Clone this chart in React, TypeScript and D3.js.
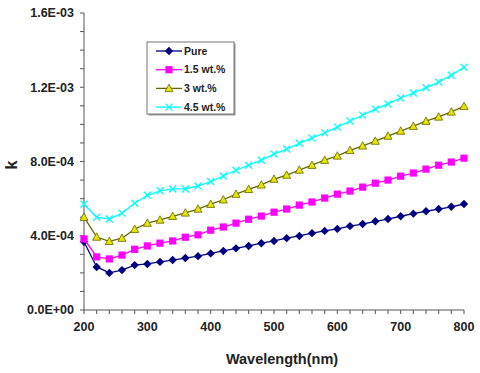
import React, { useRef, useEffect } from "react";
import * as d3 from "d3";

const wavelengths = [200, 220, 240, 260, 280, 300, 320, 340, 360, 380, 400, 420, 440, 460, 480, 500, 520, 540, 560, 580, 600, 620, 640, 660, 680, 700, 720, 740, 760, 780, 800];

const pure = [3.68e-4, 2.32e-4, 2.0e-4, 2.15e-4, 2.42e-4, 2.48e-4, 2.59e-4, 2.69e-4, 2.8e-4, 2.9e-4, 3.05e-4, 3.18e-4, 3.32e-4, 3.45e-4, 3.6e-4, 3.72e-4, 3.87e-4, 3.99e-4, 4.14e-4, 4.26e-4, 4.37e-4, 4.52e-4, 4.63e-4, 4.78e-4, 4.9e-4, 5.05e-4, 5.19e-4, 5.32e-4, 5.44e-4, 5.56e-4, 5.71e-4];
const wt15 = [3.83e-4, 2.86e-4, 2.75e-4, 2.96e-4, 3.27e-4, 3.45e-4, 3.6e-4, 3.72e-4, 3.92e-4, 4.05e-4, 4.3e-4, 4.47e-4, 4.68e-4, 4.89e-4, 5.06e-4, 5.27e-4, 5.44e-4, 5.65e-4, 5.82e-4, 6.03e-4, 6.24e-4, 6.41e-4, 6.62e-4, 6.83e-4, 7.0e-4, 7.21e-4, 7.38e-4, 7.59e-4, 7.8e-4, 7.97e-4, 8.18e-4];
const wt3 = [5.0e-4, 3.93e-4, 3.7e-4, 3.87e-4, 4.35e-4, 4.68e-4, 4.85e-4, 5.05e-4, 5.23e-4, 5.44e-4, 5.7e-4, 5.94e-4, 6.24e-4, 6.5e-4, 6.74e-4, 7.05e-4, 7.27e-4, 7.54e-4, 7.8e-4, 8.07e-4, 8.3e-4, 8.6e-4, 8.84e-4, 9.1e-4, 9.37e-4, 9.64e-4, 9.9e-4, 1.017e-3, 1.04e-3, 1.067e-3, 1.097e-3];
const wt45 = [5.7e-4, 5.0e-4, 4.9e-4, 5.22e-4, 5.75e-4, 6.18e-4, 6.42e-4, 6.52e-4, 6.52e-4, 6.68e-4, 6.92e-4, 7.22e-4, 7.53e-4, 7.8e-4, 8.07e-4, 8.4e-4, 8.67e-4, 8.98e-4, 9.27e-4, 9.54e-4, 9.85e-4, 1.018e-3, 1.05e-3, 1.082e-3, 1.11e-3, 1.142e-3, 1.169e-3, 1.197e-3, 1.228e-3, 1.265e-3, 1.308e-3];

const seriesNames = ["Pure", "1.5 wt.%", "3 wt.%", "4.5 wt.%"];
const seriesValues = [pure, wt15, wt3, wt45];
const lineColors = ["#000080", "#ff00ff", "#666600", "#00ffff"];
const markerFills = ["#000080", "#ff00ff", "#e6e600", "#00ffff"];
const markerTypes = ["diamond", "square", "triangle", "x"];

const yTickLabels = ["0.0E+00", "4.0E-04", "8.0E-04", "1.2E-03", "1.6E-03"];

const font = "'Liberation Sans', Arial, sans-serif";

function drawMarker(g: any, type: string, fill: string, stroke: string) {
  if (type === "diamond") {
    g.append("path").attr("d", "M0,-4.2L4.2,0L0,4.2L-4.2,0Z").attr("fill", fill);
  } else if (type === "square") {
    g.append("rect").attr("x", -3.6).attr("y", -3.6).attr("width", 7.2).attr("height", 7.2).attr("fill", fill);
  } else if (type === "triangle") {
    g.append("path").attr("d", "M0,-4.2L4,3.2L-4,3.2Z").attr("fill", fill).attr("stroke", stroke).attr("stroke-width", 0.8);
  } else {
    g.append("path").attr("d", "M-3.5,-3.5L3.5,3.5M-3.5,3.5L3.5,-3.5").attr("stroke", fill).attr("stroke-width", 1.3);
  }
}

export default function App() {
  const svgRef = useRef<SVGSVGElement>(null);

  useEffect(() => {
    const svg = d3.select(svgRef.current);
    svg.selectAll("*").remove();

    const x = d3.scaleLinear().domain([200, 800]).range([84, 464]);
    const y = d3.scaleLinear().domain([0, 1.6e-3]).range([310, 13]);

    // y axis
    const yAxis = svg.append("g").attr("transform", "translate(84,0)");
    yAxis.append("line").attr("x1", 0).attr("x2", 0).attr("y1", y(1.6e-3)).attr("y2", y(0)).attr("stroke", "#555");
    d3.range(0, 17).forEach((i) => {
      const v = i * 1e-4;
      yAxis.append("line").attr("x1", -4).attr("x2", 0).attr("y1", y(v)).attr("y2", y(v)).attr("stroke", "#555");
    });
    yTickLabels.forEach((t, i) => {
      yAxis.append("text").attr("x", -10).attr("y", y(i * 4e-4)).attr("dy", "0.35em")
        .attr("text-anchor", "end").attr("font-family", font).attr("font-weight", "bold")
        .attr("font-size", 12.5).attr("fill", "#222").text(t);
    });

    // x axis
    const xAxis = svg.append("g").attr("transform", "translate(0,310)");
    xAxis.append("line").attr("x1", x(200)).attr("x2", x(800)).attr("y1", 0).attr("y2", 0).attr("stroke", "#555");
    d3.range(200, 801, 20).forEach((v) => {
      xAxis.append("line").attr("x1", x(v)).attr("x2", x(v)).attr("y1", 0).attr("y2", 4).attr("stroke", "#555");
    });
    d3.range(200, 801, 100).forEach((v) => {
      xAxis.append("text").attr("x", x(v)).attr("y", 21).attr("text-anchor", "middle")
        .attr("font-family", font).attr("font-weight", "bold").attr("font-size", 12.5)
        .attr("fill", "#222").text(v);
    });

    svg.append("text").attr("x", 282).attr("y", 364).attr("text-anchor", "middle")
      .attr("font-family", font).attr("font-weight", "bold").attr("font-size", 14.5)
      .attr("fill", "#222").text("Wavelength(nm)");
    svg.append("text").attr("transform", "translate(17,165) rotate(-90)").attr("text-anchor", "middle")
      .attr("font-family", font).attr("font-weight", "bold").attr("font-size", 16)
      .attr("fill", "#222").text("k");

    const line = d3.line<number>().x((d, i) => x(wavelengths[i])).y((d) => y(d));

    seriesValues.forEach((vals, s) => {
      const g = svg.append("g");
      g.append("path").attr("d", line(vals)).attr("fill", "none")
        .attr("stroke", lineColors[s]).attr("stroke-width", 1.3);
      vals.forEach((v, i) => {
        const m = g.append("g").attr("transform", `translate(${x(wavelengths[i])},${y(v)})`);
        drawMarker(m, markerTypes[s], markerFills[s], lineColors[s]);
      });
    });

    // legend
    const lg = svg.append("g").attr("transform", "translate(147,42)");
    lg.append("rect").attr("x", 1.5).attr("y", 1.5).attr("width", 87).attr("height", 72).attr("fill", "#999");
    lg.append("rect").attr("x", 0).attr("y", 0).attr("width", 87).attr("height", 72)
      .attr("fill", "#fff").attr("stroke", "#777").attr("stroke-width", 1);
    seriesNames.forEach((name, s) => {
      const ly = 9 + s * 18.7;
      lg.append("line").attr("x1", 9).attr("x2", 35).attr("y1", ly).attr("y2", ly)
        .attr("stroke", lineColors[s]).attr("stroke-width", 1.3);
      const m = lg.append("g").attr("transform", `translate(22,${ly})`);
      drawMarker(m, markerTypes[s], markerFills[s], lineColors[s]);
      lg.append("text").attr("x", 37).attr("y", ly).attr("dy", "0.35em")
        .attr("font-family", font).attr("font-weight", "bold").attr("font-size", 10.5)
        .attr("fill", "#222").text(name);
    });
  }, []);

  return (
    <div style={{ position: "absolute", left: 0, top: 0 }}>
      <svg ref={svgRef} width={480} height={373} style={{ display: "block", background: "#fff" }}></svg>
    </div>
  );
}
